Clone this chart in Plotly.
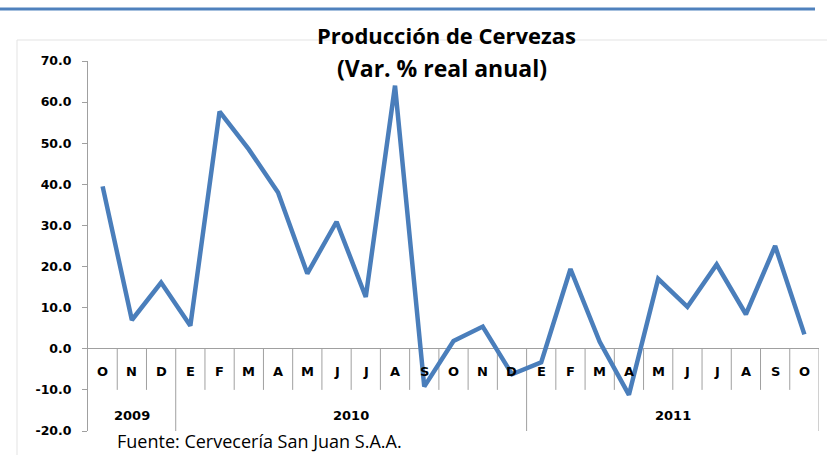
import plotly.graph_objects as go

# ---- data ----
meses = ["O", "N", "D",
         "E", "F", "M", "A", "M", "J", "J", "A", "S", "O", "N", "D",
         "E", "F", "M", "A", "M", "J", "J", "A", "S", "O"]
anio_por_mes = ["2009"] * 3 + ["2010"] * 12 + ["2011"] * 10
variacion = [39.5, 7.0, 16.1, 5.6, 57.7, 48.5, 38.0, 18.3, 30.9, 12.6, 64.0, -9.2,
             1.9, 5.4, -6.2, -3.3, 19.4, 1.7, -11.2, 17.0, 10.2, 20.5, 8.4, 25.0, 3.5]
y_ticks = [-20, -10, 0, 10, 20, 30, 40, 50, 60, 70]

titulo1 = "Producción de Cervezas"
titulo2 = "(Var. % real anual)"
fuente = "Fuente: Cervecería San Juan S.A.A."

idx = list(range(len(meses)))
BLUE = "#4a7ebb"
AXC = "#a0a0a0"
LBL = dict(family="DejaVu Sans", size=13, color="#000000")

fig = go.Figure()
fig.add_trace(go.Scatter(x=idx, y=variacion, mode="lines",
                         line=dict(color=BLUE, width=4.5), showlegend=False,
                         hoverinfo="skip"))

shapes = []
annotations = []

# month labels + separators
for i, m in enumerate(meses):
    annotations.append(dict(x=i, y=-5.6, xref="x", yref="y", text=f"<b>{m}</b>",
                            showarrow=False, font=LBL))
for i in range(1, len(meses) + 1):
    last = i == len(meses)
    year_break = last or anio_por_mes[i] != anio_por_mes[i - 1]
    shapes.append(dict(type="line", xref="x", yref="y", x0=i - 0.5, x1=i - 0.5,
                       y0=0, y1=-20 if year_break else -10,
                       line=dict(color=AXC, width=1), layer="below"))

# year labels
groups = []
start = 0
for i in range(1, len(anio_por_mes) + 1):
    if i == len(anio_por_mes) or anio_por_mes[i] != anio_por_mes[start]:
        groups.append((anio_por_mes[start], start, i - 1))
        start = i
for yr, a, b in groups:
    annotations.append(dict(x=(a + b) / 2, y=-16.3, xref="x", yref="y",
                            text=f"<b>{yr}</b>", showarrow=False, font=LBL))

# decorative frame
shapes.append(dict(type="line", xref="paper", yref="paper", x0=-88/731, x1=(815-88)/731,
                   y0=1 + (61 - 9) / 370, y1=1 + (61 - 9) / 370,
                   line=dict(color="#4f81bd", width=3)))
shapes.append(dict(type="line", xref="paper", yref="paper", x0=(17-88)/731, x1=(827-88)/731,
                   y0=1 + (61 - 40) / 370, y1=1 + (61 - 40) / 370,
                   line=dict(color="#e3e3e3", width=1), layer="below"))
shapes.append(dict(type="line", xref="paper", yref="paper", x0=(17-88)/731, x1=(17-88)/731,
                   y0=1 + (61 - 40) / 370, y1=-0.2,
                   line=dict(color="#e3e3e3", width=1), layer="below"))

# titles
annotations.append(dict(xref="paper", yref="paper", x=(446-88)/731, y=1 + (61 - 35) / 370,
                        text=f"<b>{titulo1}</b>", showarrow=False, yanchor="middle",
                        font=dict(family="Open Sans", size=22, color="#000000")))
annotations.append(dict(xref="paper", yref="paper", x=(442-88)/731, y=1 + (61 - 68) / 370,
                        text=f"<b>{titulo2}</b>", showarrow=False, yanchor="middle",
                        font=dict(family="Open Sans", size=23, color="#000000")))
annotations.append(dict(xref="paper", yref="paper", x=(115-88)/731, y=-(441 - 431) / 370,
                        text=fuente, showarrow=False, xanchor="left", yanchor="middle",
                        font=dict(family="Open Sans", size=18, color="#000000")))

fig.update_layout(
    width=827, height=455,
    margin=dict(l=88, r=8, t=61, b=24),
    paper_bgcolor="white", plot_bgcolor="white",
    xaxis=dict(range=[-0.5, len(meses) - 0.5], showticklabels=False, showgrid=False,
               zeroline=False, showline=False, ticks=""),
    yaxis=dict(range=[-20, 70], tickvals=y_ticks, ticktext=[f"<b>{v:.1f}</b>" for v in y_ticks],
               showgrid=False, showline=True, linecolor=AXC, linewidth=1,
               ticks="outside", ticklen=5, tickcolor=AXC, ticklabelstandoff=8,
               zeroline=True, zerolinecolor=AXC, zerolinewidth=1, automargin=False,
               tickfont=dict(family="DejaVu Sans", size=12.5, color="#000000")),
    shapes=shapes, annotations=annotations,
)

fig.write_html("out.html", config={"displayModeBar": False},
               post_script="document.body.style.margin='0';")
